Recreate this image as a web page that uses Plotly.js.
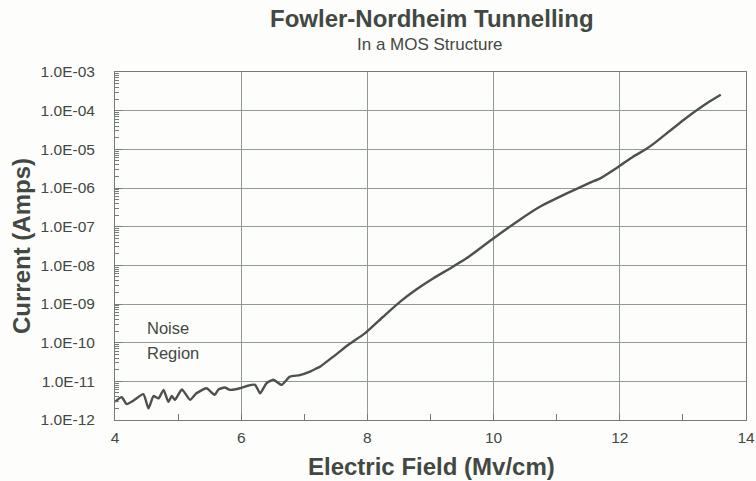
<!DOCTYPE html>
<html>
<head>
<meta charset="utf-8">
<script src="https://cdn.plot.ly/plotly-3.0.1.min.js"></script>
<style>html,body{margin:0;padding:0;background:#fdfdfb;}#chart{width:756px;height:481px;}</style>
</head>
<body>
<div id="chart"></div>
<script>
const fieldMVcm = [4.0,4.106,4.185,4.29,4.45,4.53,4.61,4.69,4.77,4.845,4.90,4.95,5.06,5.19,5.29,5.45,5.58,5.64,5.74,5.82,5.98,6.09,6.22,6.30,6.40,6.51,6.64,6.77,6.93,7.09,7.20,7.25,7.46,7.72,7.96,8.25,8.52,8.78,9.04,9.31,9.57,10.0,10.37,10.74,11.16,11.53,11.69,11.98,12.21,12.43,12.58,13.01,13.38,13.60];
const logCurrent = [-11.53,-11.41,-11.59,-11.50,-11.33,-11.70,-11.38,-11.44,-11.22,-11.53,-11.38,-11.48,-11.21,-11.48,-11.31,-11.18,-11.35,-11.21,-11.16,-11.22,-11.18,-11.12,-11.09,-11.31,-11.05,-10.96,-11.09,-10.88,-10.84,-10.75,-10.66,-10.62,-10.36,-10.03,-9.76,-9.33,-8.94,-8.62,-8.34,-8.08,-7.82,-7.30,-6.87,-6.48,-6.14,-5.86,-5.75,-5.45,-5.19,-4.98,-4.80,-4.24,-3.81,-3.59];
const currentAmps = logCurrent.map(v => Math.pow(10, v));
const yTickVals = [1e-12,1e-11,1e-10,1e-9,1e-8,1e-7,1e-6,1e-5,1e-4,1e-3];
const yTickText = ["1.0E-12","1.0E-11","1.0E-10","1.0E-09","1.0E-08","1.0E-07","1.0E-06","1.0E-05","1.0E-04","1.0E-03"];
const xTickVals = [4,6,8,10,12,14];
const xMinorVals = [5,7,9,11,13];
const yMinorMantissas = [2,3,4,5,6,7,8,9];

const yMinorVals = [];
yTickVals.slice(0, -1).forEach(d => yMinorMantissas.forEach(m => yMinorVals.push(d * m)));

const txt = '#424842';
const gridC = '#909c8e';
const tickC = '#737d71';
const font = 'Liberation Sans, Arial, sans-serif';

Plotly.newPlot('chart', [
  {x: fieldMVcm, y: currentAmps, type: 'scatter', mode: 'lines',
   line: {color: '#4c514c', width: 2.4, shape: 'spline', smoothing: 0.5}, hoverinfo: 'skip'}
], {
  width: 756, height: 481,
  margin: {l: 115, r: 10, t: 72, b: 61},
  paper_bgcolor: '#fdfdfb', plot_bgcolor: '#fdfdfb',
  showlegend: false,
  font: {family: font, color: txt},
  xaxis: {
    range: [4, 14], tickmode: 'array', tickvals: xTickVals, ticktext: xTickVals.map(String),
    showgrid: true, gridcolor: gridC, gridwidth: 1,
    showline: true, linecolor: tickC, linewidth: 1, mirror: true,
    ticks: 'inside', ticklen: 6, tickcolor: tickC, tickwidth: 1,
    minor: {tickmode: 'array', tickvals: xMinorVals, ticks: 'inside', ticklen: 6, tickwidth: 1, tickcolor: tickC, showgrid: false},
    tickfont: {size: 15.5, color: txt, family: font},
    zeroline: false, ticklabelstandoff: 3
  },
  yaxis: {
    type: 'log', range: [-12, -3], tickmode: 'array', tickvals: yTickVals, ticktext: yTickText,
    showgrid: true, gridcolor: gridC, gridwidth: 1,
    showline: true, linecolor: tickC, linewidth: 1, mirror: true,
    ticks: 'inside', ticklen: 7, tickcolor: tickC, tickwidth: 1,
    minor: {tickmode: 'array', tickvals: yMinorVals, ticks: 'inside', ticklen: 4, tickwidth: 1, tickcolor: tickC, showgrid: false},
    tickfont: {size: 15.5, color: txt, family: font},
    zeroline: false, ticklabelstandoff: 16
  },
  annotations: [
    {text: '<b>Fowler-Nordheim Tunnelling</b>', xref: 'paper', yref: 'paper', x: (432-115)/631, y: 1 + (72-19)/348, xanchor: 'center', yanchor: 'middle', showarrow: false, font: {size: 24, color: txt, family: font}},
    {text: 'In a MOS Structure', xref: 'paper', yref: 'paper', x: (430-115)/631, y: 1 + (72-44)/348, xanchor: 'center', yanchor: 'middle', showarrow: false, font: {size: 17, color: txt, family: font}},
    {text: '<b>Electric Field (Mv/cm)</b>', xref: 'paper', yref: 'paper', x: (431-115)/631, y: -(466-420)/348, xanchor: 'center', yanchor: 'middle', showarrow: false, font: {size: 24, color: txt, family: font}},
    {text: '<b>Current (Amps)</b>', xref: 'paper', yref: 'paper', x: -(115-21)/631, y: 0.5, textangle: -90, xanchor: 'center', yanchor: 'middle', showarrow: false, font: {size: 24, color: txt, family: font}},
    {text: 'Noise', xref: 'x', yref: 'paper', x: 4.48, y: (420-328)/348, xanchor: 'left', yanchor: 'middle', showarrow: false, font: {size: 16.5, color: txt, family: font}},
    {text: 'Region', xref: 'x', yref: 'paper', x: 4.48, y: (420-353)/348, xanchor: 'left', yanchor: 'middle', showarrow: false, font: {size: 16.5, color: txt, family: font}}
  ]
}, {displayModeBar: false, staticPlot: true});
</script>
</body>
</html>
